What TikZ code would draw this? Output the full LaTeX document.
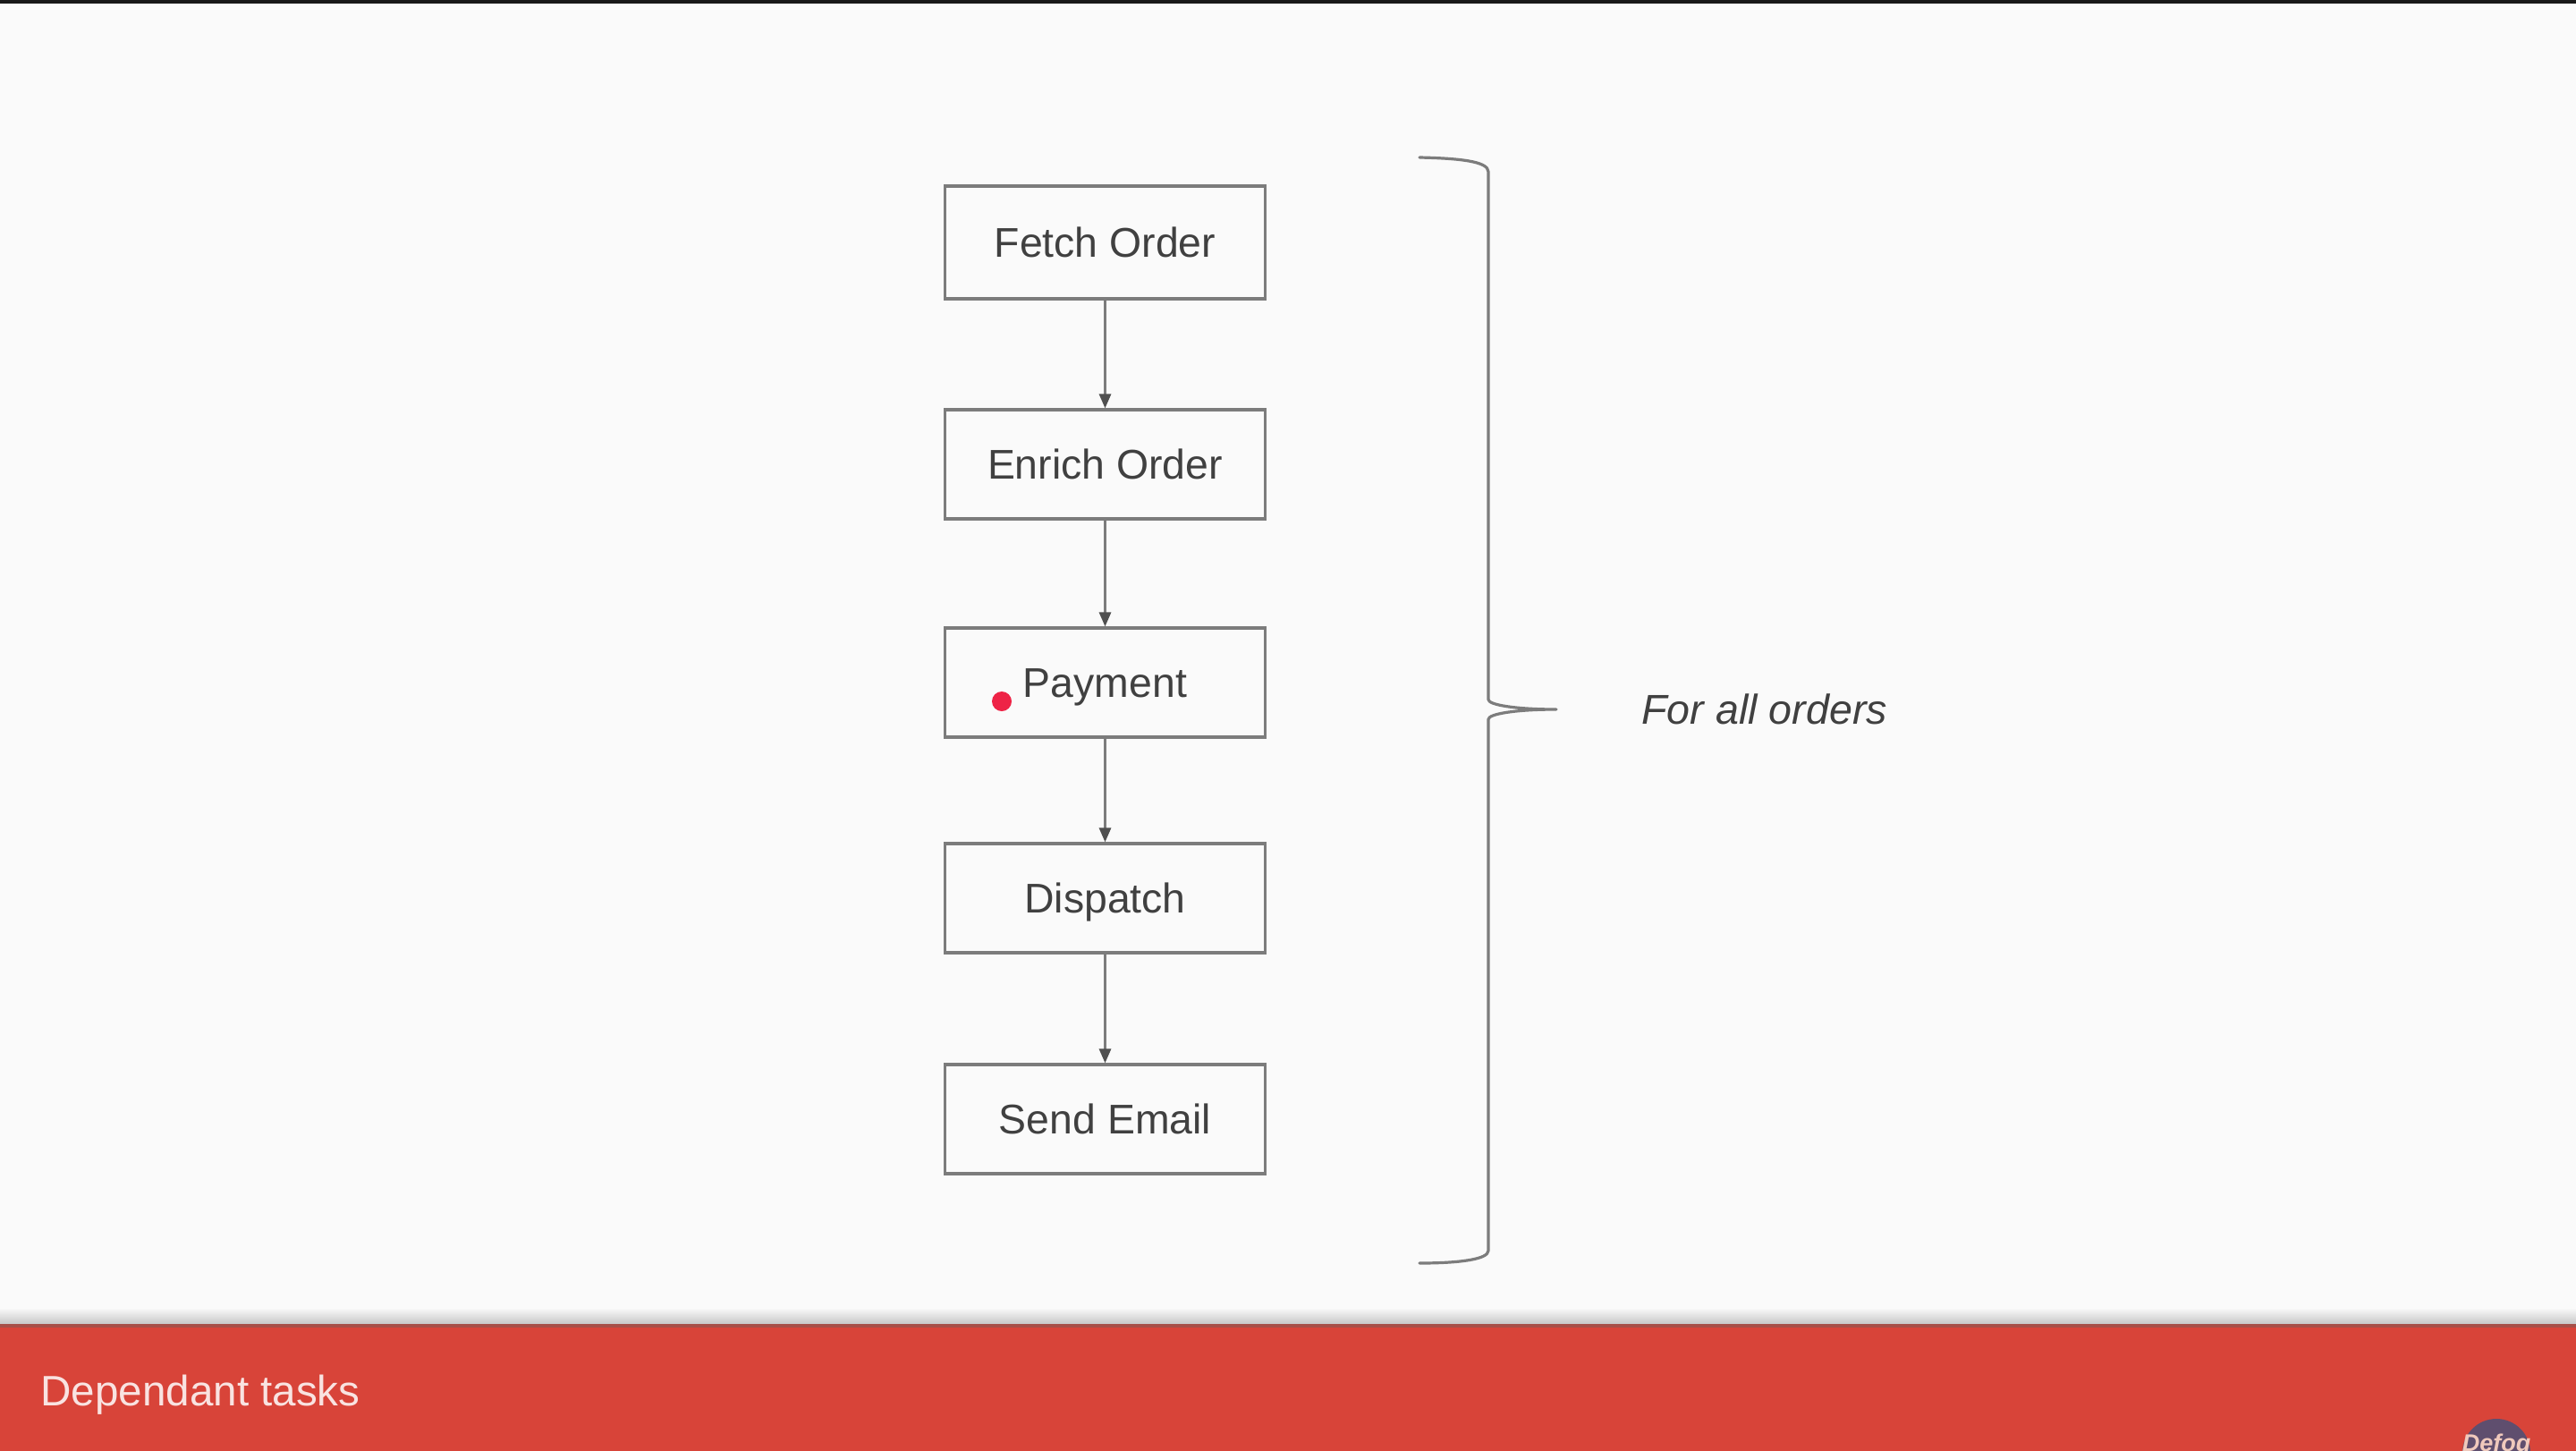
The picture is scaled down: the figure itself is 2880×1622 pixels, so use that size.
\documentclass[tikz,border=0pt]{standalone}
\usepackage{fontspec}
\setmainfont{Liberation Sans}
\usetikzlibrary{arrows.meta}
\definecolor{pagebg}{HTML}{FAFAFA}
\definecolor{barred}{HTML}{D84439}
\definecolor{inkgray}{HTML}{404040}
\definecolor{linegray}{HTML}{7C7C7C}
\definecolor{arrowgray}{HTML}{505050}
\definecolor{logobg}{HTML}{5F4E6E}
\definecolor{logotx}{HTML}{F0C9BC}
\definecolor{dotred}{HTML}{EE2346}
\tikzset{
  x=0.5pt,y=-0.5pt,
  taskbox/.style={draw=linegray,line width=1.7pt,fill=pagebg,minimum width=179pt,inner sep=0pt,outer sep=0.8pt,
    text=inkgray,font=\fontsize{23.2pt}{26pt}\selectfont,text height=16.6pt,text depth=0pt},
  flowarrow/.style={draw=linegray,line width=1.5pt,-{Triangle[length=8pt,width=6.5pt,color=arrowgray]}},
  bracket/.style={draw=linegray,line width=1.6pt,line cap=round,line join=round},
}
\begin{document}
\begin{tikzpicture}
\useasboundingbox (0,0) rectangle (2880,1622);
\fill[pagebg] (0,0) rectangle (2880,1622);
\fill[black!90] (0,0) rectangle (2880,4);
% bar with its soft shadow
\shade[top color=pagebg,bottom color=black!22] (0,1462) rectangle (2880,1480);
\fill[barred!70!black!85] (0,1480) rectangle (2880,1484);
\fill[barred] (0,1484) rectangle (2880,1622);
\node[anchor=base west,inner sep=0pt,text=white!85!barred,font=\fontsize{23.8pt}{26pt}\selectfont] (title) at (45,1571) {Dependant tasks};
% logo
\begin{scope}
\clip (2700,1540) rectangle (2880,1622);
\fill[logobg] (2791,1624) circle[radius=38];
\node[anchor=base,inner sep=0pt,text=logotx,font=\fontsize{13.5pt}{14pt}\bfseries\itshape\selectfont] (logo) at (2791,1622) {Defog};
\end{scope}
% tasks
\node[taskbox,minimum height=63pt] (fetch) at (1235.5,271) {Fetch Order};
\node[taskbox,minimum height=61pt] (enrich) at (1235.5,519) {Enrich Order};
\node[taskbox,minimum height=61pt] (payment) at (1235.5,763) {Payment};
\node[taskbox,minimum height=61pt] (dispatch) at (1235.5,1004) {Dispatch};
\node[taskbox,minimum height=61pt] (send) at (1235.5,1251) {Send Email};
\draw[flowarrow] (fetch) -- (enrich);
\draw[flowarrow] (enrich) -- (payment);
\draw[flowarrow] (payment) -- (dispatch);
\draw[flowarrow] (dispatch) -- (send);
\fill[dotred] (1120,784) circle[radius=11];
% bracket
\coordinate (bt) at (1587,176);
\coordinate (bb) at (1587,1412);
\coordinate (tip) at (1740,793);
\draw[bracket] (bt) .. controls (1630,177) and (1664,180) .. (1664,192)
  -- (1664,782) .. controls (1664,788) and (1695,793) .. (tip)
  .. controls (1695,793) and (1664,798) .. (1664,804)
  -- (1664,1398) .. controls (1664,1408) and (1630,1412) .. (bb);
\node[anchor=base west,inner sep=0pt,text=inkgray,font=\fontsize{23.3pt}{26pt}\itshape\selectfont] (scopelabel) at (1835,809) {For all orders};
\end{tikzpicture}
\end{document}
